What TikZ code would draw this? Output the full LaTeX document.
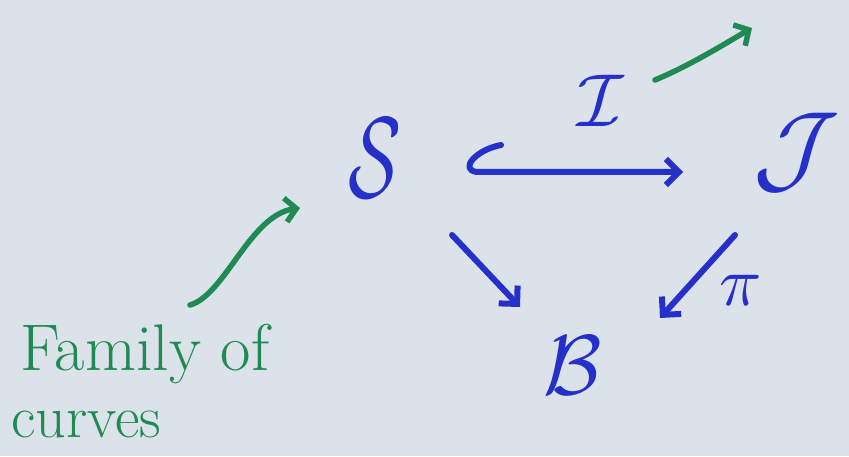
\documentclass[tikz,border=0pt]{standalone}
\usepackage{fontspec}
\usetikzlibrary{arrows.meta,calc}
\definecolor{board}{HTML}{DCE2EA}
\definecolor{ink}{HTML}{2430C8}
\definecolor{marker}{HTML}{1F8A52}
\begin{document}
\begin{tikzpicture}[x=1pt,y=1pt,
  sym/.style={text=ink,inner sep=0pt},
  bluearrow/.style={draw=ink,line width=6pt,line cap=round,line join=round,
    -{Straight Barb[length=13pt,width=26pt,line width=6pt]}},
  greenarrow/.style={draw=marker,line width=5.5pt,line cap=round,line join=round,
    -{Straight Barb[length=11pt,width=24pt,line width=5.5pt]}},
  lbl/.style={text=marker,inner sep=0pt,anchor=base west}]
\fill[board] (0,0) rectangle (849,456);
\useasboundingbox (0,0) rectangle (849,456);
\node[sym] (S) at (375,298) {\scalebox{7.8}[11.5]{$\mathcal{S}$}};
\node[sym] (I) at (601,355) {\scalebox{7.5}{$\mathcal{I}$}};
\node[sym] (J) at (797,304) {\scalebox{10}{$\mathcal{J}$}};
\node[sym] (B) at (573,91) {\scalebox{8.5}{$\mathcal{B}$}};
\node[sym] (pi) at (741,166) {\scalebox{7}{$\pi$}};
\node[lbl] (fam) at (20,86) {\fontsize{66}{66}\selectfont Family of};
\node[lbl] (cur) at (11,19) {\fontsize{60}{60}\selectfont curves};
% hooked inclusion S -> J
\draw[bluearrow] ($(S)+(126,13)$) .. controls ($(S)+(100,8)$) and ($(S)+(84,-12)$) .. ($(S)+(102,-14)$) -- ($(J)+(-114,-20)$);
% S -> B
\draw[bluearrow] ($(S)+(77,-77)$) -- ($(B)+(-53,58)$);
% J -> B
\draw[bluearrow] ($(J)+(-62,-83)$) -- ($(B)+(87,47)$);
% green: family of curves -> S
\draw[greenarrow] ($(fam.base west)+(170,65)$) .. controls ($(fam.base west)+(205,75)$) and ($(fam.base west)+(230,155)$) .. ($(S)+(-75,-50)$);
% green: from I outward
\draw[greenarrow] ($(I)+(54,21)$) .. controls ($(I)+(90,36)$) and ($(I)+(125,58)$) .. ($(I)+(151,73)$);
\end{tikzpicture}
\end{document}
